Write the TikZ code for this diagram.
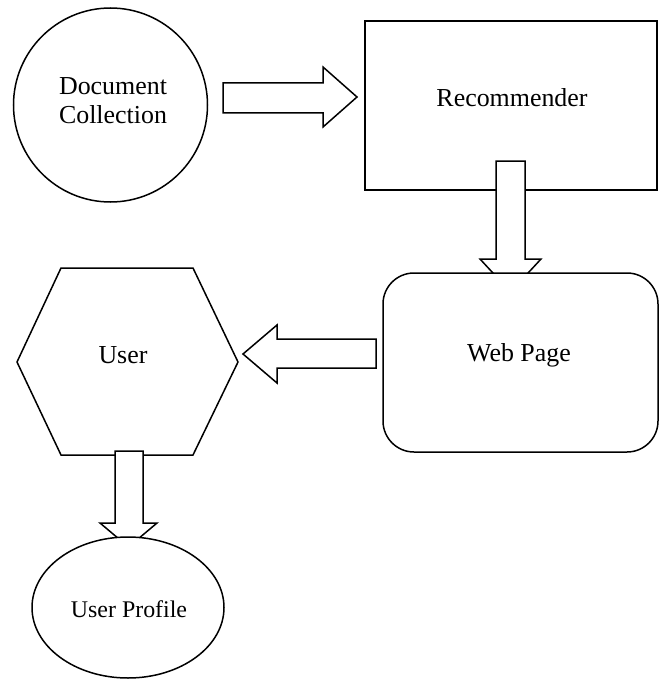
\documentclass[tikz,border=0pt]{standalone}
\usepackage{fontspec}
\setmainfont{Liberation Serif}
\begin{document}
\begin{tikzpicture}[x=1bp,y=-1bp,
  shapeline/.style={draw=black, line width=1.5bp, fill=white, line join=miter},
  blockarrow/.style={draw=black, line width=1.5bp, fill=white, line join=miter},
  lbl/.style={font=\fontsize{26}{29}\selectfont, inner sep=0pt, align=center},
  lblsmall/.style={font=\fontsize{24}{27}\selectfont, inner sep=0pt, align=center}]
\useasboundingbox (0,0) rectangle (660,679);
% Document Collection
\draw[shapeline] (110.5,105) circle[radius=97];
\node[lbl] (doc) at (113,101) {Document\\Collection};
% right arrow
\draw[blockarrow] (223,83) -- (323,83) -- (323,67) -- (357,97) -- (323,127) -- (323,113) -- (223,113) -- cycle;
% Recommender
\draw[shapeline] (365,21) rectangle (657,190);
\node[lbl] (rec) at (512,98) {Recommender};
% down arrow 1
\draw[blockarrow] (496,161) -- (525,161) -- (525,259) -- (541,259) -- (510.5,292) -- (480,259) -- (496,259) -- cycle;
% Web Page
\draw[shapeline, rounded corners=31bp] (383,273) rectangle (658,452);
\node[lbl] (web) at (519,355) {Web Page};
% left arrow
\draw[blockarrow] (376,339) -- (277,339) -- (277,325) -- (243,354) -- (277,383) -- (277,368) -- (376,368) -- cycle;
% User hexagon
\draw[shapeline] (61,268) -- (193,268) -- (238,362) -- (193,455) -- (61,455) -- (17,362) -- cycle;
\node[lbl] (user) at (123,355) {User};
% down arrow 2
\draw[blockarrow] (115,451) -- (143,451) -- (143,523) -- (157,523) -- (128.5,547) -- (100,523) -- (115,523) -- cycle;
% User Profile
\draw[shapeline] (128,607.5) ellipse[x radius=96, y radius=70.5];
\node[lblsmall] (prof) at (129,609) {User Profile};
\end{tikzpicture}
\end{document}
